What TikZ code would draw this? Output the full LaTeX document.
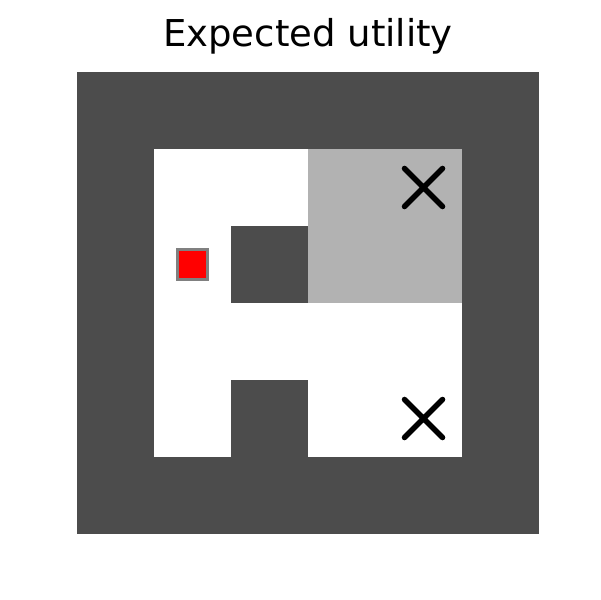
\documentclass[tikz,border=0pt]{standalone}
\usepackage{fontspec}
\setmainfont{DejaVu Sans}
\definecolor{wall}{gray}{0.3}
\definecolor{utilgray}{gray}{0.7}
\definecolor{edge}{gray}{0.5}
\begin{document}
\begin{tikzpicture}[x=77pt,y=-77pt]
                \useasboundingbox (-1,-0.935) rectangle (6.792,6.857);
                % title
                \node[anchor=base,inner sep=0pt] (title) at (3,-0.325) {\fontsize{37}{44}\selectfont Expected utility};
                % walls
                \fill[wall] (0,0) rectangle (6,6);
                \fill[white] (1,1) rectangle (5,5);
                \fill[wall] (2,2) rectangle (3,3);
                \fill[wall] (2,4) rectangle (3,5);
                % utility area
                \fill[utilgray] (3,1) rectangle (5,3);
                % goals
                \foreach \y in {1.5,4.5}
                    \draw[line width=5.5pt,line cap=round] (4.5-0.247,\y-0.247) -- (4.5+0.247,\y+0.247)
                        (4.5-0.247,\y+0.247) -- (4.5+0.247,\y-0.247);
                % agent
                \draw[fill=red,draw=edge,line width=3pt] (1.5-0.195,2.5-0.195) rectangle (1.5+0.195,2.5+0.195);
            \end{tikzpicture}
\end{document}
